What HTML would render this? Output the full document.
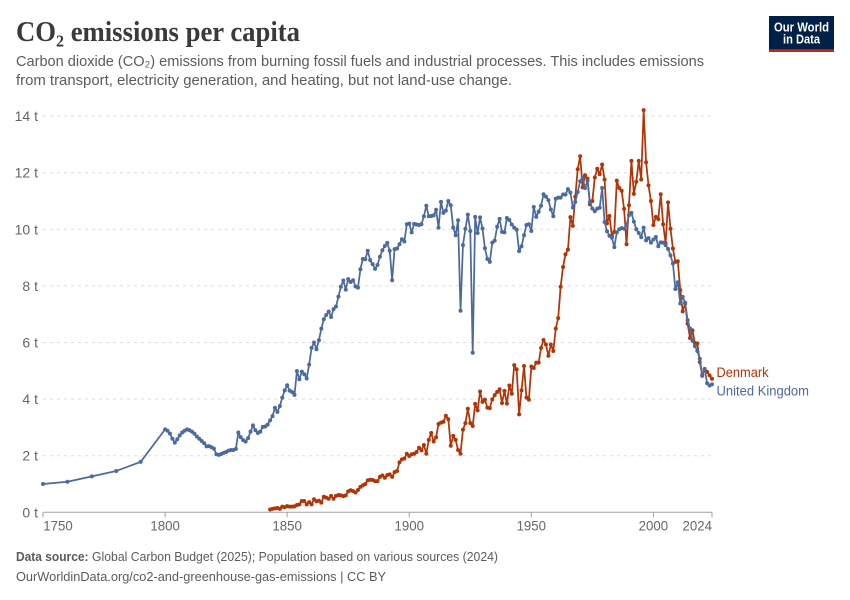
<!DOCTYPE html>
<html lang="en">
<head>
<meta charset="utf-8">
<title>CO₂ emissions per capita</title>
<style>
  html, body { margin: 0; padding: 0; background: #fff; }
  body { width: 850px; height: 600px; overflow: hidden; }
  svg { display: block; font-family: "Liberation Sans", "DejaVu Sans", sans-serif; }
</style>
</head>
<body>
<svg id="chart" xmlns="http://www.w3.org/2000/svg" width="850" height="600" viewBox="0 0 850 600">
  <rect x="0" y="0" width="850" height="600" fill="#ffffff"/>

  <text x="16" y="41" font-family="'Liberation Serif','DejaVu Serif',serif" font-weight="700" font-size="28" fill="#3a3a3a" textLength="284" lengthAdjust="spacingAndGlyphs">CO₂ emissions per capita</text>
  <text x="16" y="66" font-size="15" fill="#5b5b5b" textLength="688" lengthAdjust="spacingAndGlyphs">Carbon dioxide (CO₂) emissions from burning fossil fuels and industrial processes. This includes emissions</text>
  <text x="16" y="85" font-size="15" fill="#5b5b5b" textLength="496" lengthAdjust="spacingAndGlyphs">from transport, electricity generation, and heating, but not land-use change.</text>

  <g>
    <rect x="769" y="16" width="65" height="36" fill="#002147"/>
    <rect x="769" y="49.3" width="65" height="2.6" fill="#ce261e"/>
    <text x="774" y="31.5" font-size="13" font-weight="700" fill="#ffffff" textLength="55" lengthAdjust="spacingAndGlyphs">Our World</text>
    <text x="783" y="43.5" font-size="13" font-weight="700" fill="#ffffff" textLength="37" lengthAdjust="spacingAndGlyphs">in Data</text>
  </g>

  <g id="grid"></g>
  <g id="y-axis"></g>
  <g id="x-axis"></g>
  <g id="series"></g>

  <text x="716.5" y="377" font-size="13.5" fill="#b13507" textLength="52" lengthAdjust="spacingAndGlyphs">Denmark</text>
  <text x="716.5" y="395.5" font-size="13.5" fill="#4c6a9c" textLength="92.5" lengthAdjust="spacingAndGlyphs">United Kingdom</text>

  <text x="16" y="561" font-size="13" font-weight="700" fill="#5b5b5b" textLength="72.5" lengthAdjust="spacingAndGlyphs">Data source:</text>
  <text x="92" y="561" font-size="13" fill="#5b5b5b" textLength="406" lengthAdjust="spacingAndGlyphs">Global Carbon Budget (2025); Population based on various sources (2024)</text>
  <text x="16" y="581" font-size="13" fill="#5b5b5b" textLength="370" lengthAdjust="spacingAndGlyphs">OurWorldinData.org/co2-and-greenhouse-gas-emissions | CC BY</text>
</svg>
<script>
const yTicks = [0, 2, 4, 6, 8, 10, 12, 14];
const yTickLabels = ["0 t", "2 t", "4 t", "6 t", "8 t", "10 t", "12 t", "14 t"];
const xTicks = [1750, 1800, 1850, 1900, 1950, 2000, 2024];
const xTickLabels = ["1750", "1800", "1850", "1900", "1950", "2000", "2024"];

const ukEarlyYears = [1750, 1760, 1770, 1780, 1790];
const ukEarlyValues = [1.0, 1.08, 1.27, 1.46, 1.78];
const ukAnnualStart = 1800;
const ukAnnualValues = [
  2.93,2.88,2.78,2.6,2.46,2.58,2.72,2.82,2.88,2.93,
  2.9,2.85,2.78,2.68,2.6,2.52,2.44,2.33,2.34,2.3,
  2.25,2.05,2.03,2.06,2.1,2.13,2.18,2.2,2.2,2.24,
  2.82,2.65,2.55,2.5,2.62,2.85,3.07,2.9,2.8,2.85,
  3.02,3.03,3.1,3.25,3.4,3.69,3.55,3.75,4.05,4.31,
  4.49,4.3,4.25,4.15,4.99,4.7,4.97,4.88,4.73,5.22,
  5.81,6.0,5.76,6.08,6.49,6.82,6.97,7.09,6.9,7.18,
  7.27,7.62,7.97,8.19,7.87,8.24,8.14,8.2,7.98,7.94,
  8.59,8.95,8.94,9.24,8.91,8.77,8.6,8.74,9.03,9.26,
  9.41,9.52,9.24,8.2,9.3,9.32,9.47,9.65,9.57,10.18,
  10.2,9.89,10.19,10.17,10.15,10.18,10.46,10.83,10.46,10.47,
  10.49,10.69,10.06,10.97,10.58,10.66,11.0,10.85,10.06,9.79,
  10.32,7.12,9.44,10.02,10.52,9.94,5.64,10.44,9.87,10.42,
  10.03,9.33,8.95,8.85,9.53,9.6,10.09,10.37,9.91,9.89,
  10.4,10.33,10.17,10.06,9.99,9.23,9.4,9.79,10.15,10.18,
  9.94,10.79,10.44,10.62,10.83,11.24,11.15,11.03,10.7,10.46,
  11.08,11.12,11.12,11.23,11.23,11.42,11.3,10.77,10.97,11.32,
  11.7,11.82,11.46,11.71,10.97,10.73,10.64,10.73,10.76,11.46,
  10.26,9.93,9.77,9.7,9.37,9.89,10.0,10.04,10.02,10.15,
  10.5,10.58,10.27,10.0,9.87,9.72,10.06,9.61,9.69,9.53,
  9.64,9.73,9.4,9.54,9.53,9.44,9.31,9.08,8.79,7.89,
  8.13,7.38,7.61,7.41,6.79,6.49,6.06,5.87,5.7,5.43,
  4.82,5.07,4.56,4.48,4.52
];

const denmarkStart = 1843;
const denmarkValues = [
  0.10,0.12,0.14,0.15,0.12,0.2,0.18,
  0.22,0.2,0.2,0.21,0.26,0.28,0.4,0.4,0.28,0.36,
  0.28,0.46,0.39,0.41,0.34,0.55,0.52,0.48,0.58,0.48,
  0.58,0.61,0.6,0.57,0.6,0.74,0.78,0.75,0.7,0.79,
  0.9,0.95,1.0,1.13,1.15,1.14,1.1,1.1,1.25,1.3,
  1.22,1.32,1.34,1.25,1.42,1.46,1.77,1.87,1.9,2.07,
  1.99,2.05,2.07,2.13,2.28,2.19,2.38,2.07,2.56,2.8,
  2.5,2.65,3.12,3.17,3.2,3.41,3.29,2.35,2.7,2.56,
  2.2,2.07,2.92,3.15,3.66,3.15,3.05,3.83,3.6,4.27,
  3.9,3.98,3.7,3.68,3.99,4.14,4.25,4.35,3.86,4.29,
  3.84,4.48,4.19,5.2,5.05,3.46,4.31,5.17,4.05,3.98,
  5.15,5.1,5.29,5.29,5.81,6.09,5.93,5.53,5.93,5.7,
  6.49,6.86,7.97,8.67,9.12,9.28,10.43,10.12,11.15,12.12,
  12.58,11.48,11.91,11.79,10.88,11.0,11.83,12.14,11.95,12.29,
  11.76,10.21,10.47,9.76,9.91,11.72,11.46,11.36,10.72,9.47,
  10.85,12.42,11.25,11.68,12.42,11.76,14.21,12.37,11.55,11.0,
  10.15,10.44,10.36,11.24,10.18,9.5,10.95,10.02,9.32,8.85,
  8.87,7.85,7.1,7.38,6.67,6.16,6.43,5.98,5.97,5.31,
  4.85,5.05,4.96,4.84,4.72
];

const SVG_NS = "http://www.w3.org/2000/svg";
const plotLeft = 43;
const plotRight = 712;
const plotBottom = 512.3;
const plotTop = 116.1;

function xScale(year) {
  return plotLeft + (year - 1750) / (2024 - 1750) * (plotRight - plotLeft);
}
function yScale(value) {
  return plotBottom - value / 14 * (plotBottom - plotTop);
}
function make(tag, parent, attrs) {
  const el = document.createElementNS(SVG_NS, tag);
  for (const k in attrs) el.setAttribute(k, attrs[k]);
  parent.appendChild(el);
  return el;
}

const gridLayer = document.getElementById("grid");
const yAxisLayer = document.getElementById("y-axis");
const xAxisLayer = document.getElementById("x-axis");
const seriesLayer = document.getElementById("series");

yTicks.forEach(function (tick, i) {
  if (tick !== 0) {
    const line = make("line", gridLayer, { x1: plotLeft, x2: plotRight, y1: yScale(tick), y2: yScale(tick), stroke: "#dddddd", "stroke-width": 1, "stroke-dasharray": "3,4" });
    
    
  }
  const label = make("text", yAxisLayer, { x: 38, y: yScale(tick) + 5, "text-anchor": "end", "font-size": 14, fill: "#666666" });
  label.textContent = yTickLabels[i];
  
  
});

const xAxisLine = make("line", xAxisLayer, { x1: plotLeft, x2: plotRight, y1: plotBottom, y2: plotBottom, stroke: "#a1a1a1", "stroke-width": 1 });



xTicks.forEach(function (tick, i) {
  const x = xScale(tick);
  const mark = make("line", xAxisLayer, { x1: x, x2: x, y1: plotBottom, y2: plotBottom + 5, stroke: "#a1a1a1", "stroke-width": 1 });
  
  
  let anchor = "middle";
  let tx = x;
  if (i === 0) { anchor = "start"; tx = x + 0.3; }
  if (i === xTicks.length - 1) { anchor = "end"; }
  const label = make("text", xAxisLayer, { x: tx, y: 530.5, "text-anchor": anchor, "font-size": 14, fill: "#666666", textLength: 29.5, lengthAdjust: "spacingAndGlyphs" });
  label.textContent = xTickLabels[i];
  
  
});

function drawSeries(name, color, years, values) {
  const group = make("g", seriesLayer, {});
  
  
  const pts = years.map(function (year, i) {
    return xScale(year).toFixed(2) + "," + yScale(values[i]).toFixed(2);
  }).join(" ");
  const line = make("polyline", group, { points: pts, fill: "none", stroke: color, "stroke-width": 1.75, "stroke-linejoin": "round" });
  
  
  years.forEach(function (year, i) {
    const dot = make("circle", group, { cx: xScale(year), cy: yScale(values[i]), r: 2, fill: color });
    
    
  });
}

const denmarkYears = denmarkValues.map(function (_, i) { return denmarkStart + i; });
const ukAnnualYears = ukAnnualValues.map(function (_, i) { return ukAnnualStart + i; });

drawSeries("series-denmark", "#b13507", denmarkYears, denmarkValues);
drawSeries("series-united-kingdom", "#4c6a9c", ukEarlyYears.concat(ukAnnualYears), ukEarlyValues.concat(ukAnnualValues));
</script>
</body>
</html>
